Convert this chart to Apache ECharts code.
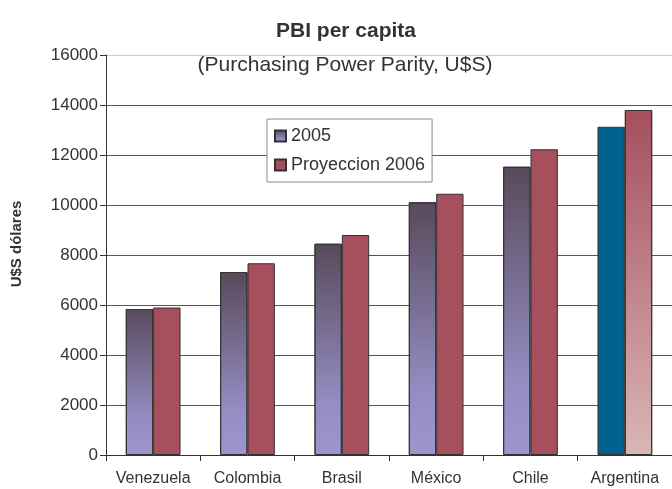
<!DOCTYPE html>
<html>
<head>
<meta charset="utf-8">
<script src="https://cdn.jsdelivr.net/npm/echarts@6/dist/echarts.min.js"></script>
<style>
  html, body { margin: 0; padding: 0; background: #fff; }
  #chart { width: 672px; height: 489px; }
</style>
</head>
<body>
<div id="chart"></div>
<script>
var categories = ['Venezuela', 'Colombia', 'Brasil', 'México', 'Chile', 'Argentina']
var values2005 = [5840, 7320, 8450, 10110, 11530, 13130]
var values2006 = [5900, 7670, 8800, 10450, 12230, 13800]
var seriesNames = ['2005', 'Proyeccion 2006']

var font = "'Liberation Sans', Arial, sans-serif"

var purpleFill = new echarts.graphic.LinearGradient(0, 0, 0, 1, [
  { offset: 0, color: '#584a5b' },
  { offset: 0.75, color: '#948dc2' },
  { offset: 1, color: '#9c96cc' }
])
var pinkFill = new echarts.graphic.LinearGradient(0, 0, 0, 1, [
  { offset: 0, color: '#a54f5d' },
  { offset: 1, color: '#dab6b5' }
])

// Argentina gets its own colours
var last = categories.length - 1
var data2005 = values2005.map(function (v, i) {
  return i === last ? { value: v, itemStyle: { color: '#02628f' } } : v
})
var data2006 = values2006.map(function (v, i) {
  return i === last ? { value: v, itemStyle: { color: pinkFill } } : v
})

var myChart = echarts.init(document.getElementById('chart'))
var option = {
  backgroundColor: '#fff',
  textStyle: { fontFamily: font },
  title: [{
    text: 'PBI per capita',
    left: 341,
    top: 16,
    textAlign: 'center',
    textStyle: { fontSize: 21, fontWeight: 'bold', color: '#333', fontFamily: font }
  }, {
    text: '(Purchasing Power Parity, U$S)',
    left: 340,
    top: 50,
    textAlign: 'center',
    textStyle: { fontSize: 21, fontWeight: 'normal', color: '#333', fontFamily: font }
  }],
  legend: {
    orient: 'vertical',
    left: 267,
    top: 119,
    padding: [8, 7, 8, 7],
    itemWidth: 11,
    itemHeight: 11,
    itemGap: 11,
    backgroundColor: '#fff',
    borderColor: '#888',
    borderWidth: 1,
    icon: 'rect',
    textStyle: { fontSize: 18, color: '#333', fontFamily: font },
    data: seriesNames
  },
  grid: {
    left: 106,
    right: -4,
    top: 55,
    bottom: 34
  },
  xAxis: {
    type: 'category',
    data: categories,
    axisLine: { lineStyle: { color: '#333' } },
    axisTick: { show: true, length: 6, interval: 0, lineStyle: { color: '#333' } },
    axisLabel: { interval: 0, fontSize: 16, color: '#333', margin: 16, fontFamily: font }
  },
  yAxis: {
    type: 'value',
    min: 0,
    max: 16000,
    interval: 2000,
    name: 'U$S dólares',
    nameLocation: 'middle',
    nameRotate: 90,
    nameGap: 82,
    nameTextStyle: { fontSize: 15, fontWeight: 'bold', color: '#333', padding: [0, 0, 0, 22], fontFamily: font },
    axisLine: { show: true, lineStyle: { color: '#333' } },
    axisTick: { show: true, length: 6, lineStyle: { color: '#333' } },
    axisLabel: {
      fontSize: 17,
      color: '#333',
      margin: 8,
      fontFamily: font,
      formatter: function (v) { return String(v) }
    },
    splitLine: {
      show: true,
      lineStyle: {
        color: ['#444', '#555', '#555', '#555', '#555', '#555', '#555', '#555', '#ccc'],
        width: 1
      }
    }
  },
  series: [{
    name: seriesNames[0],
    type: 'bar',
    data: data2005,
    barGap: '0%',
    barCategoryGap: '42%',
    itemStyle: { color: purpleFill, borderColor: '#333', borderWidth: 1 }
  }, {
    name: seriesNames[1],
    type: 'bar',
    data: data2006,
    barGap: '0%',
    barCategoryGap: '42%',
    itemStyle: { color: '#a64f5d', borderColor: '#333', borderWidth: 1 }
  }]
}
myChart.setOption(option)
</script>
</body>
</html>
